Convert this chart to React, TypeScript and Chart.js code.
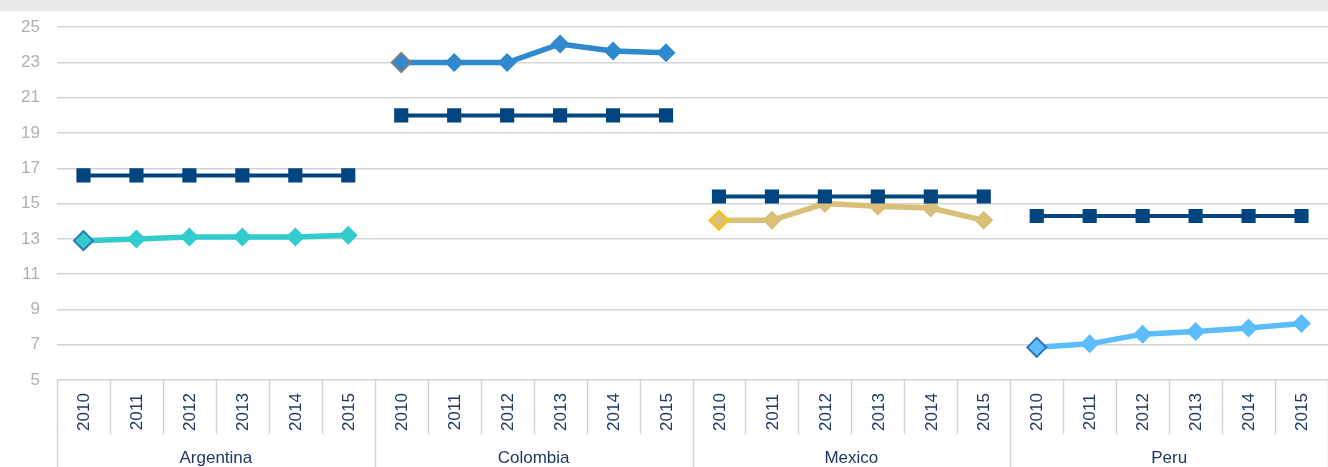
import React, { useEffect, useRef } from "react";
import { Chart, registerables } from "chart.js";

Chart.register(...registerables);

const countries = ["Argentina", "Colombia", "Mexico", "Peru"];
const years = ["2010", "2011", "2012", "2013", "2014", "2015"];
const yTicks = [5, 7, 9, 11, 13, 15, 17, 19, 21, 23, 25];

const benchmark = [16.6, 20.0, 15.4, 14.3];
const argentina = [12.9, 13.0, 13.1, 13.1, 13.1, 13.2];
const colombia = [23.0, 23.0, 23.0, 24.05, 23.65, 23.55];
const mexico = [14.05, 14.05, 15.0, 14.85, 14.75, 14.05];
const peru = [6.85, 7.05, 7.6, 7.75, 7.95, 8.2];

const seriesValues = [argentina, colombia, mexico, peru];
const seriesColors = ["#33cccc", "#2e89cf", "#d9bf77", "#5bbdfb"];
const firstBorder = ["#2e75b6", "#7f7f7f", "#ffc000", "#2e75b6"];
const darkColor = "#00457f";

const labels: string[] = [];
countries.forEach(() => years.forEach((y) => labels.push(y)));

function place(g: number, vals: number[]): (number | null)[] {
  const arr: (number | null)[] = new Array(labels.length).fill(null);
  vals.forEach((v, i) => (arr[g * years.length + i] = v));
  return arr;
}

export default function App() {
  const ref = useRef<HTMLCanvasElement | null>(null);
  useEffect(() => {
    document.body.style.margin = "0";
    if (!ref.current) return;
    const datasets: any[] = [];
    countries.forEach((_, g) => {
      datasets.push({
        data: place(g, years.map(() => benchmark[g])),
        borderColor: darkColor,
        backgroundColor: darkColor,
        borderWidth: 4,
        pointStyle: "rect",
        pointRadius: 10,
        pointBorderWidth: 0,
        pointBackgroundColor: darkColor,
        spanGaps: false,
      });
    });
    countries.forEach((_, g) => {
      const c = seriesColors[g];
      const start = g * years.length;
      datasets.push({
        data: place(g, seriesValues[g]),
        borderColor: c,
        backgroundColor: c,
        borderWidth: 5.5,
        pointStyle: "rectRot",
        pointRadius: 9.5,
        pointBackgroundColor: c,
        pointBorderColor: (ctx: any) => (ctx.dataIndex === start ? firstBorder[g] : c),
        pointBorderWidth: (ctx: any) => (ctx.dataIndex === start ? 2 : 0),
        spanGaps: false,
      });
    });

    const deco = {
      id: "deco",
      beforeDraw(chart: any) {
        const ctx = chart.ctx;
        ctx.save();
        ctx.fillStyle = "#e8e8e8";
        ctx.fillRect(0, 0, chart.width, 11);
        ctx.restore();
      },
      afterDraw(chart: any) {
        const ctx = chart.ctx;
        const a = chart.chartArea;
        const xs = chart.scales.x;
        const n = labels.length;
        const w = (a.right - a.left) / n;
        ctx.save();
        ctx.strokeStyle = "#d4d4d4";
        ctx.lineWidth = 1.5;
        for (let i = 0; i <= n; i++) {
          const x = Math.round(a.left + i * w) + 0.5;
          ctx.beginPath();
          ctx.moveTo(x, a.bottom);
          ctx.lineTo(x, i % years.length === 0 ? chart.height : a.bottom + 54);
          ctx.stroke();
        }
        ctx.fillStyle = "#1f3864";
        ctx.font = "17px 'Liberation Sans', Arial, sans-serif";
        ctx.textAlign = "center";
        ctx.textBaseline = "middle";
        for (let i = 0; i < n; i++) {
          const x = xs.getPixelForValue(i);
          ctx.save();
          ctx.translate(x + 1, a.bottom + 32);
          ctx.rotate(-Math.PI / 2);
          ctx.fillText(labels[i], 0, 0);
          ctx.restore();
        }
        countries.forEach((c, g) => {
          const x0 = xs.getPixelForValue(g * years.length);
          const x1 = xs.getPixelForValue(g * years.length + years.length - 1);
          ctx.fillText(c, (x0 + x1) / 2, a.bottom + 78);
        });
        ctx.restore();
      },
    };

    const chart = new Chart(ref.current, {
      type: "line",
      data: { labels, datasets },
      plugins: [deco],
      options: {
        responsive: false,
        animation: false,
        layout: { autoPadding: false, padding: { top: 26, right: 0, left: 0, bottom: 0 } },
        plugins: { legend: { display: false }, tooltip: { enabled: false } },
        scales: {
          x: {
            type: "category",
            offset: true,
            grid: { display: false },
            border: { display: false },
            ticks: { display: false },
            afterFit: (s: any) => {
              s.height = 87;
              s.paddingLeft = 0;
              s.paddingRight = 0;
            },
          },
          y: {
            min: 5,
            max: 25,
            afterBuildTicks: (s: any) => {
              s.ticks = yTicks.map((v) => ({ value: v }));
            },
            grid: { color: "#d4d4d4", lineWidth: 1.5, drawTicks: false },
            border: { display: false },
            ticks: {
              color: "#b0b0b0",
              padding: 17,
              font: { family: "'Liberation Sans', Arial, sans-serif", size: 17 },
            },
            afterFit: (s: any) => {
              s.width = 57;
              s.paddingLeft = 0;
              s.paddingRight = 0;
            },
          },
        },
      },
    });
    return () => chart.destroy();
  }, []);
  return (
    <div style={{ width: 1328, height: 467 }}>
      <canvas ref={ref} width={1328} height={467} style={{ display: "block" }} />
    </div>
  );
}
